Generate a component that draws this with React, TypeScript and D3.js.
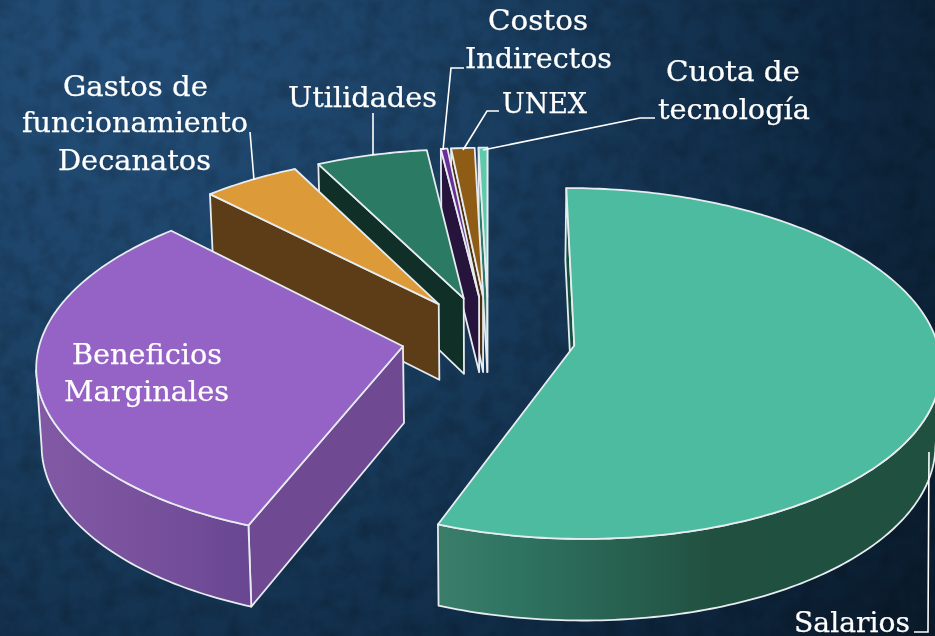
import React from "react";
import * as d3 from "d3";

const categories = ["Salarios", "Beneficios Marginales", "Gastos de funcionamiento Decanatos", "Utilidades", "Costos Indirectos", "UNEX", "Cuota de tecnología"];
const shares = [55.89, 31.75, 4.86, 5.56, 0.33, 1.17, 0.44];
const topColors = ["#4dbba0", "#9562c5", "#dd9a38", "#2b7a63", "#6a2f96", "#8f5c16", "#5fc9ae"];
const wallColors = ["#14503f", "#6f4a93", "#5c3d18", "#0f2f27", "#26143c", "#4a3010", "#2f7a68"];
const drawOrder = [6, 5, 4, 3, 2, 1, 0];
const labelLines = [
  { t: "Costos", x: 538, y: 30, w: 100 },
  { t: "Indirectos", x: 538.5, y: 68, w: 147 },
  { t: "Cuota de", x: 733, y: 81, w: 134 },
  { t: "tecnología", x: 734, y: 119, w: 152 },
  { t: "UNEX", x: 544.5, y: 113, w: 85 },
  { t: "Utilidades", x: 362.5, y: 107, w: 149 },
  { t: "Gastos de", x: 135.5, y: 96, w: 145 },
  { t: "funcionamiento", x: 135, y: 132, w: 226 },
  { t: "Decanatos", x: 134.5, y: 170, w: 153 },
  { t: "Beneficios", x: 147, y: 364, w: 150 },
  { t: "Marginales", x: 146.5, y: 401, w: 165 },
  { t: "Salarios", x: 852, y: 632, w: 116 },
];
const leaderLines: [number, number][][] = [
  [[464, 68], [451, 68], [443, 150]],
  [[499, 111], [487, 111], [463, 150]],
  [[655, 118], [640, 118], [483, 150]],
  [[373, 113], [373, 155]],
  [[250, 132], [254, 180]],
  [[914, 632], [928, 632], [929, 452]],
];

const cx = 488.5, cy = 337.7, Rx = 362, Ry = 172, k = 0.102, explodeU = 0.24, explodeV = 0.245;
const eyeV = -1 / k;
const project = (u: number, v: number): [number, number] => {
  const w = 1 + k * v;
  return [cx + (Rx * u) / w, cy - (Ry * v) / w];
};
const lower = (u: number, v: number): [number, number] => {
  const [x, y] = project(u, v);
  return [cx + (x - cx) * 0.988, y + 76.5 / (1 + 0.06 * v)];
};
const line = d3.line();
const arcs = d3.pie<number>().sort(null)(shares);

function slice(i: number) {
  const a = arcs[i];
  const mid = (a.startAngle + a.endAngle) / 2;
  const au = explodeU * Math.sin(mid), av = explodeV * Math.cos(mid);
  const n = Math.max(4, Math.ceil((a.endAngle - a.startAngle) * 60));
  const angles = d3.range(n + 1).map((j) => a.startAngle + ((a.endAngle - a.startAngle) * j) / n);
  const pt = (t: number) => [au + Math.sin(t), av + Math.cos(t)] as [number, number];
  const rim = angles.map(pt);
  const top = line([project(au, av), ...rim.map((p) => project(p[0], p[1]))])! + "Z";
  const facing = angles.filter((t) => {
    const p = pt(t);
    return -p[0] * Math.sin(t) + (eyeV - p[1]) * Math.cos(t) > 0;
  }).map(pt);
  const outer = facing.length > 1
    ? line([...facing.map((p) => project(p[0], p[1])), ...facing.slice().reverse().map((p) => lower(p[0], p[1]))])! + "Z"
    : null;
  const wall = (p: [number, number]) =>
    line([project(au, av), project(p[0], p[1]), lower(p[0], p[1]), lower(au, av)])! + "Z";
  const s = a.startAngle, e = a.endAngle;
  // only walls turned toward the viewer are drawn
  const startVisible = -au * -Math.cos(s) + (eyeV - av) * Math.sin(s) > 0;
  const endVisible = -au * Math.cos(e) + (eyeV - av) * -Math.sin(e) > 0;
  return { top, outer, w1: startVisible ? wall(pt(s)) : null, w2: endVisible ? wall(pt(e)) : null };
}

export default function App() {
  const stroke = "#e6ecef";
  return (
    <svg width={935} height={636} viewBox="0 0 935 636" style={{ position: "fixed", left: 0, top: 0, display: "block" }}>
      <defs>
        <radialGradient id="bg" gradientUnits="userSpaceOnUse" cx={120} cy={60} r={1000}>
          <stop offset="0" stopColor="#234e78" />
          <stop offset="0.35" stopColor="#1b4063" />
          <stop offset="0.7" stopColor="#0f2a44" />
          <stop offset="1" stopColor="#0a1a2a" />
        </radialGradient>
        <filter id="mottle" x="0" y="0" width="100%" height="100%">
          <feTurbulence type="fractalNoise" baseFrequency="0.05" numOctaves={3} seed={4} />
          <feColorMatrix values="0 0 0 0 0  0 0 0 0 0  0 0 0 0 0  1.6 0 0 0 -0.62" />
        </filter>
        <linearGradient id="wall0">
          <stop offset="0" stopColor="#3a7e6a" />
          <stop offset="0.15" stopColor="#2f7462" />
          <stop offset="0.55" stopColor="#215040" />
          <stop offset="1" stopColor="#20503f" />
        </linearGradient>
        <linearGradient id="wall1">
          <stop offset="0" stopColor="#8259a5" />
          <stop offset="0.6" stopColor="#764f9b" />
          <stop offset="1" stopColor="#684691" />
        </linearGradient>
      </defs>
      <rect width={935} height={636} fill="url(#bg)" />
      <rect width={935} height={636} filter="url(#mottle)" opacity={0.22} />
      {drawOrder.map((i) => {
        const s = slice(i);
        const outerFill = i === 0 ? "url(#wall0)" : i === 1 ? "url(#wall1)" : wallColors[i];
        return (
          <g key={categories[i]} stroke={stroke} strokeWidth={1.8} strokeLinejoin="round">
            {s.w1 && <path d={s.w1} fill={wallColors[i]} />}
            {s.w2 && <path d={s.w2} fill={wallColors[i]} />}
            {s.outer && <path d={s.outer} fill={outerFill} />}
            <path d={s.top} fill={topColors[i]} />
          </g>
        );
      })}
      {leaderLines.map((pts, i) => (
        <path key={i} d={line(pts)!} fill="none" stroke="#ffffff" strokeWidth={1.6} />
      ))}
      {labelLines.map((l) => (
        <text key={l.t} x={l.x} y={l.y} textAnchor="middle" fontFamily="'DejaVu Serif', serif" fontSize={28} fill="#ffffff" stroke="#ffffff" strokeWidth={0.25} textLength={l.w} lengthAdjust="spacingAndGlyphs">
          {l.t}
        </text>
      ))}
    </svg>
  );
}
